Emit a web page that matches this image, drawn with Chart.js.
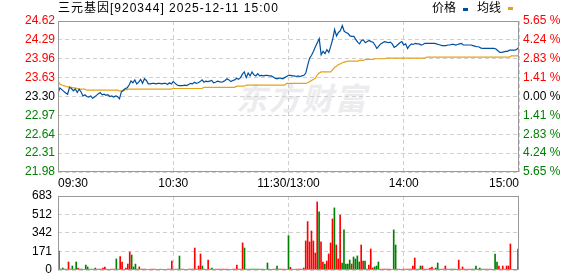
<!DOCTYPE html>
<html>
<head>
<meta charset="utf-8">
<script src="https://cdn.jsdelivr.net/npm/chart.js@4.4.1/dist/chart.umd.min.js"></script>
<style>
  html, body { margin: 0; padding: 0; background: #fff; }
  #wrap { position: relative; width: 578px; height: 276px; overflow: hidden;
          font-family: "Liberation Sans", "Noto Sans CJK SC", sans-serif; }
  canvas { position: absolute; left: 0; }
  #priceCanvas { top: 0; }
  #volCanvas { top: 190px; }
  .txt { position: absolute; font-size: 12px; line-height: 16px; color: #000; white-space: nowrap; }
  .mark { position: absolute; width: 5px; height: 3px; }
  #watermark { position: absolute; left: 236px; top: 74px; font-size: 31px; font-weight: bold;
               color: #ececef; font-family: "Noto Sans CJK SC", sans-serif; letter-spacing: 2px; font-style: italic; }
</style>
</head>
<body>
<div id="wrap">
  <div id="watermark">东方财富</div>
  <canvas id="priceCanvas" width="578" height="190"></canvas>
  <canvas id="volCanvas" width="578" height="86"></canvas>
  <div class="txt" style="left:58px; top:0px; letter-spacing:1px;">三元基因[920344] 2025-12-11 15:00</div>
  <div class="txt" style="left:432px; top:0px;">价格</div>
  <div class="mark" style="left:463px; top:8px; background:#0050a0;"></div>
  <div class="txt" style="left:477px; top:0px;">均线</div>
  <div class="mark" style="left:508px; top:7px; background:#e3a21a;"></div>
</div>
<script>
// intraday data, one value per minute (09:30-11:30, 13:00-15:00)
const prevClose = 23.30;

const price = [
  23.36, 23.45, 23.42, 23.39, 23.36, 23.34, 23.46, 23.44, 23.40, 23.43,
  23.37, 23.43, 23.38, 23.31, 23.33, 23.30, 23.29, 23.31, 23.27, 23.29,
  23.32, 23.35, 23.37, 23.33, 23.34, 23.32, 23.33, 23.30, 23.31, 23.29,
  23.31, 23.30, 23.26, 23.38, 23.41, 23.44, 23.45, 23.50, 23.57, 23.54,
  23.59, 23.52, 23.55, 23.60, 23.53, 23.61, 23.58, 23.52, 23.52, 23.53,
  23.53, 23.52, 23.53, 23.53, 23.52, 23.53, 23.53, 23.51, 23.54, 23.52,
  23.56, 23.53, 23.50, 23.49, 23.49, 23.49, 23.50, 23.49, 23.51, 23.53,
  23.52, 23.55, 23.53, 23.54, 23.56, 23.59, 23.55, 23.57, 23.56, 23.57,
  23.58, 23.54, 23.55, 23.57, 23.56, 23.55, 23.56, 23.58, 23.61, 23.59,
  23.56, 23.58, 23.59, 23.62, 23.60, 23.63, 23.69, 23.73, 23.63, 23.71,
  23.66, 23.73, 23.68, 23.66, 23.70, 23.66, 23.67, 23.66, 23.67, 23.67,
  23.66, 23.66, 23.64, 23.62, 23.61, 23.62, 23.62, 23.61, 23.63, 23.65,
  23.67, 23.67, 23.66, 23.66, 23.65, 23.66, 23.65, 23.66, 23.67, 23.71,
  23.85, 23.97, 24.02, 24.09, 24.17, 24.24, 24.31, 24.03, 24.09, 24.05,
  24.12, 24.07, 24.18, 24.30, 24.47, 24.36, 24.42, 24.45, 24.54, 24.44,
  24.42, 24.40, 24.36, 24.35, 24.35, 24.30, 24.25, 24.22, 24.28, 24.29,
  24.24, 24.26, 24.28, 24.26, 24.25, 24.20, 24.14, 24.18, 24.22, 24.24,
  24.26, 24.25, 24.24, 24.25, 24.22, 24.16, 24.18, 24.21, 24.24, 24.26,
  24.20, 24.22, 24.14, 24.19, 24.22, 24.21, 24.23, 24.22, 24.22, 24.20,
  24.21, 24.23, 24.23, 24.23, 24.23, 24.23, 24.23, 24.22, 24.21, 24.20,
  24.19, 24.19, 24.19, 24.20, 24.20, 24.21, 24.21, 24.20, 24.21, 24.22,
  24.23, 24.20, 24.20, 24.20, 24.20, 24.20, 24.19, 24.18, 24.17, 24.17,
  24.15, 24.14, 24.14, 24.14, 24.14, 24.14, 24.14, 24.14, 24.13, 24.10,
  24.07, 24.07, 24.08, 24.09, 24.09, 24.11, 24.11, 24.11, 24.11, 24.13,
  24.16
];

const avgPrice = [
  23.56, 23.52, 23.50, 23.49, 23.48, 23.47, 23.47, 23.46, 23.45, 23.45,
  23.44, 23.43, 23.43, 23.43, 23.43, 23.41, 23.41, 23.41, 23.41, 23.41,
  23.41, 23.41, 23.41, 23.41, 23.41, 23.41, 23.41, 23.41, 23.41, 23.41,
  23.41, 23.41, 23.40, 23.40, 23.40, 23.42, 23.42, 23.43, 23.43, 23.43,
  23.43, 23.43, 23.43, 23.43, 23.43, 23.43, 23.43, 23.43, 23.43, 23.43,
  23.43, 23.43, 23.43, 23.43, 23.43, 23.43, 23.43, 23.43, 23.43, 23.43,
  23.44, 23.44, 23.44, 23.44, 23.44, 23.44, 23.44, 23.44, 23.44, 23.44,
  23.44, 23.44, 23.44, 23.44, 23.44, 23.44, 23.46, 23.46, 23.46, 23.46,
  23.46, 23.46, 23.46, 23.46, 23.46, 23.46, 23.46, 23.46, 23.46, 23.46,
  23.46, 23.46, 23.46, 23.48, 23.48, 23.48, 23.48, 23.48, 23.50, 23.50,
  23.50, 23.50, 23.50, 23.50, 23.50, 23.50, 23.50, 23.50, 23.50, 23.50,
  23.50, 23.50, 23.50, 23.50, 23.50, 23.50, 23.50, 23.50, 23.50, 23.53,
  23.53, 23.53, 23.53, 23.53, 23.53, 23.53, 23.53, 23.53, 23.53, 23.53,
  23.54, 23.56, 23.58, 23.60, 23.62, 23.68, 23.71, 23.73, 23.73, 23.73,
  23.73, 23.73, 23.73, 23.77, 23.81, 23.83, 23.86, 23.87, 23.89, 23.90,
  23.91, 23.92, 23.92, 23.92, 23.92, 23.92, 23.92, 23.93, 23.93, 23.93,
  23.95, 23.95, 23.95, 23.95, 23.95, 23.96, 23.96, 23.96, 23.96, 23.96,
  23.96, 23.97, 23.97, 23.97, 23.97, 23.97, 23.97, 23.97, 23.97, 23.97,
  23.97, 23.97, 23.97, 23.97, 23.97, 23.97, 23.97, 23.97, 23.97, 23.97,
  23.97, 23.97, 23.99, 23.99, 23.99, 23.99, 23.99, 23.99, 23.99, 23.99,
  23.99, 23.99, 23.99, 23.99, 23.99, 23.99, 23.99, 23.99, 23.99, 23.99,
  23.99, 23.99, 23.99, 23.99, 23.99, 23.99, 23.99, 23.99, 23.99, 23.99,
  23.99, 23.99, 23.99, 23.99, 23.99, 23.99, 23.99, 23.99, 23.99, 23.99,
  23.99, 23.99, 23.99, 23.99, 23.99, 23.99, 24.01, 24.01, 24.01, 24.01,
  24.01
];

const volume = [
  175,   8,  18,   8,   8,  74,   8,  37,   8,  74,
   18,   8,   8,   0,  46,  28,   8,   8,   8,  18,
    8,   8,   8,  18,  28,   8,   0,   8,   8,   8,
  102,   8, 123,  74,   0,  18,  55, 166, 139,  28,
   55,   8,  28,   8,   8,   8,   0,   0,   8,   8,
    8,   0,   0,   8,   0,   0,   0,   8,   8,  83,
    0,   8,   8, 129,   8,   8,   0,   0,   8,   8,
    8, 203,   8,  37, 148,  37,   8,   0,  92,   8,
   18,   0,   8,   8,   8,   8,   8,   8,   8,   0,
    0,   8,   8,  46,   8,   8, 250, 203,   8,   8,
    8,   8,   8,   8,   8,   8,   8,   8,   0,  65,
    8,   0,   8,   8,  37,   8,   8,   8,   8,   0,
  317,  25,   8,   0,   8,   8,   8,   8,  18, 268,
  447, 259, 360, 268, 157, 628, 536, 259,  74,  55,
   83, 148, 250, 471, 573, 231, 102, 508,  65, 370,
   55,  55,  92,  55, 120, 102, 130,  74, 231,  83,
   83,   8,  46, 194,  18,  28,  37,  74,   8,   8,
    8,   8,   8,   8,   0, 370, 231,   8,   8,   0,
    8,   8,   8,   8,   8,  37, 111,   8,   8,  37,
   37,   8,   8,   8,  18,  28,   8,  18,  65,   8,
    8,   8,  37,   8,   8,   8,   8,   8,   0,  92,
    8,  28,   8,   8,   8,   8,   8,   8,  37,   8,
   18,   8,   8,   8,   8,   8,   8,   0, 148,  74,
   37,   8,  37,   8,  37,  37, 240,   0,   0,   0,
  194
];

// 1 = traded up (red), -1 = traded down (green)
const volDir = [
   1, -1, -1, -1, -1,  1,  1, -1, -1, -1,
   1, -1, -1, -1, -1, -1, -1, -1,  1, -1,
   1,  1,  1,  1,  1, -1, -1,  1,  1,  1,
  -1,  1,  1,  1,  1,  1,  1,  1, -1, -1,
  -1, -1,  1, -1,  1,  1,  1,  1,  1,  1,
   1,  1,  1, -1,  1,  1,  1,  1,  1,  1,
   1, -1, -1, -1,  1,  1,  1,  1,  1,  1,
  -1,  1,  1,  1,  1, -1,  1,  1,  1, -1,
  -1,  1,  1,  1,  1,  1,  1,  1,  1,  1,
   1,  1,  1,  1,  1,  1,  1, -1, -1, -1,
  -1, -1, -1, -1, -1, -1, -1, -1, -1, -1,
  -1,  1,  1,  1, -1,  1, -1,  1,  1,  1,
  -1,  1, -1,  1,  1,  1,  1, -1,  1,  1,
   1,  1,  1,  1,  1,  1, -1,  1,  1, -1,
   1,  1,  1,  1, -1,  1,  1,  1, -1, -1,
  -1, -1, -1,  1, -1, -1, -1, -1,  1,  1,
  -1, -1,  1,  1,  1, -1, -1, -1,  1,  1,
   1,  1,  1,  1,  1, -1, -1,  1,  1,  1,
   1,  1,  1,  1,  1,  1,  1, -1, -1, -1,
   1,  1,  1,  1,  1,  1,  1, -1, -1, -1,
   1,  1,  1,  1,  1, -1, -1, -1,  1,  1,
   1,  1,  1,  1,  1,  1, -1, -1, -1,  1,
  -1, -1, -1,  1,  1,  1,  1,  1, -1, -1,
   1,  1,  1,  1,  1,  1,  1,  1,  1,  1,
   1
];

// axis ticks
const timeTicks = [0, 60, 120, 180, 240];
const timeLabels = ['09:30', '10:30', '11:30/13:00', '14:00', '15:00'];
const priceTicks = [21.98, 22.31, 22.64, 22.97, 23.30, 23.63, 23.96, 24.29, 24.62];
const pctTicks = [-5.65, -4.24, -2.83, -1.41, 0, 1.41, 2.83, 4.24, 5.65];
const volTicks = [0, 171, 342, 512, 683];

Chart.defaults.font.family = '"Liberation Sans", Arial, sans-serif';
Chart.defaults.font.size = 12;

const RED = '#ff0000';
const GREEN = '#008000';
const GRID = '#d0d0d0';

// box around the plot area
const frame = {
  id: 'frame',
  afterDatasetsDraw(chart) {
    const a = chart.chartArea;
    const ctx = chart.ctx;
    ctx.save();
    ctx.strokeStyle = '#999';
    ctx.lineWidth = 1;
    ctx.strokeRect(Math.round(a.left) + 0.5, Math.round(a.top) + 0.5,
                   Math.round(a.right - a.left) - 1, Math.round(a.bottom - a.top) - 1);
    ctx.restore();
  }
};

const setTicks = arr => scale => { scale.ticks = arr.map(v => ({ value: v })); };

// fixed axis size, no extra label padding pushed into the layout
const fixSize = (w, h) => s => {
  if (w !== null) s.width = w;
  if (h !== null) s.height = h;
  s.paddingTop = 0; s.paddingBottom = 0; s.paddingLeft = 0; s.paddingRight = 0;
};

function sideColor(v, ref) {
  if (v > ref + 1e-9) return RED;
  if (v < ref - 1e-9) return GREEN;
  return '#000';
}

new Chart(document.getElementById('priceCanvas'), {
  type: 'line',
  data: {
    datasets: [
      {
        label: '价格',
        data: price.map((v, i) => ({ x: i, y: v })),
        borderColor: '#0050a0',
        borderWidth: 1.2,
        pointRadius: 0,
        yAxisID: 'y'
      },
      {
        label: '均线',
        data: avgPrice.map((v, i) => ({ x: i, y: v })),
        borderColor: '#e3a21a',
        borderWidth: 1.2,
        pointRadius: 0,
        yAxisID: 'y'
      }
    ]
  },
  options: {
    responsive: false,
    animation: false,
    layout: { padding: { top: 21, left: 0, right: 0, bottom: 0 } },
    plugins: { legend: { display: false }, tooltip: { enabled: false } },
    scales: {
      x: {
        type: 'linear', min: 0, max: 240,
        afterBuildTicks: setTicks(timeTicks),
        afterFit: fixSize(null, 18),
        ticks: { callback: (v, i) => timeLabels[i], align: 'inner', maxRotation: 0,
                 autoSkip: false, padding: 4, color: '#000' },
        grid: { color: GRID, drawTicks: false },
        border: { display: false, dash: [4, 3] }
      },
      y: {
        position: 'left', min: 21.98, max: 24.62,
        afterBuildTicks: setTicks(priceTicks),
        afterFit: fixSize(58, null),
        ticks: { callback: v => v.toFixed(2), padding: 3, autoSkip: false,
                 color: c => sideColor(c.tick.value, prevClose) },
        grid: { color: GRID, drawTicks: false },
        border: { display: false, dash: [4, 3] }
      },
      y1: {
        position: 'right', min: -5.65, max: 5.65,
        afterBuildTicks: setTicks(pctTicks),
        afterFit: fixSize(59, null),
        ticks: { callback: v => Math.abs(v).toFixed(2) + ' %', padding: 4, autoSkip: false,
                 color: c => sideColor(c.tick.value, 0) },
        grid: { display: false, drawTicks: false },
        border: { display: false }
      }
    }
  },
  plugins: [frame]
});

new Chart(document.getElementById('volCanvas'), {
  type: 'bar',
  data: {
    datasets: [{
      data: volume.map((v, i) => ({ x: i, y: v })),
      backgroundColor: volDir.map(d => d > 0 ? RED : GREEN),
      barThickness: 1
    }]
  },
  options: {
    responsive: false,
    animation: false,
    layout: { padding: { top: 6, left: 0, right: 59, bottom: 6 } },
    plugins: { legend: { display: false }, tooltip: { enabled: false } },
    scales: {
      x: {
        type: 'linear', min: -0.5, max: 240.5, offset: false,
        afterBuildTicks: setTicks(timeTicks),
        afterFit: fixSize(null, 0),
        ticks: { display: false },
        grid: { color: GRID, drawTicks: false, offset: false },
        border: { display: false, dash: [4, 3] }
      },
      y: {
        min: 0, max: 683,
        afterBuildTicks: setTicks(volTicks),
        afterFit: fixSize(58, null),
        ticks: { padding: 6, color: '#000', autoSkip: false },
        grid: { color: GRID, drawTicks: false },
        border: { display: false, dash: [4, 3] }
      }
    }
  },
  plugins: [frame]
});
</script>
</body>
</html>
